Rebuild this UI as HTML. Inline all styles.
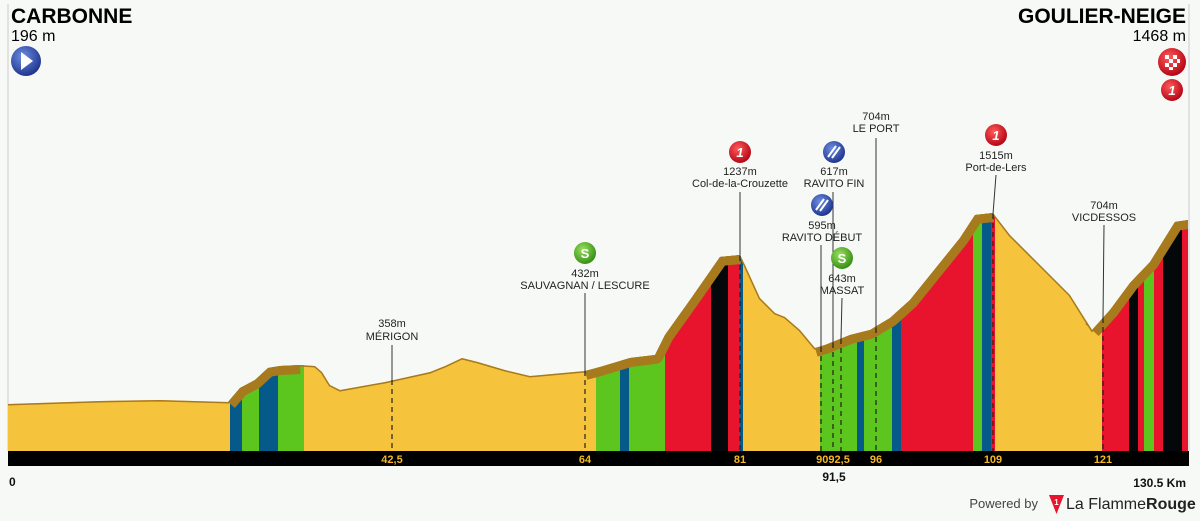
<!DOCTYPE html>
<html><head><meta charset="utf-8"><style>
html,body{margin:0;padding:0;background:#f7f9f7;}
svg{display:block;font-family:"Liberation Sans",Arial,sans-serif;}
</style></head><body>
<svg width="1200" height="521" viewBox="0 0 1200 521" xmlns="http://www.w3.org/2000/svg">
<defs>
<radialGradient id="gb" cx="40%" cy="35%" r="70%"><stop offset="0" stop-color="#6d8fe0"/><stop offset="1" stop-color="#1a2f8a"/></radialGradient>
<radialGradient id="gr" cx="40%" cy="35%" r="70%"><stop offset="0" stop-color="#ff5a5a"/><stop offset="1" stop-color="#b00010"/></radialGradient>
<radialGradient id="gg" cx="40%" cy="35%" r="70%"><stop offset="0" stop-color="#9be060"/><stop offset="1" stop-color="#2f8a10"/></radialGradient>
<clipPath id="prof"><path id="pp" d="M8,404 L100,401 L160,400 L228,402 L240,388 L255,380 L268,368 L280,366 L300,365 L315,366 L322,372 L330,385 L340,390 L385,382 L430,372 L445,366 L462,358 L478,362 L505,370 L530,376 L585,371 L600,367 L630,358 L655,355 L665,335 L690,300 L720,257 L740,255 L745,265 L760,298 L775,313 L785,317 L800,330 L815,348 L825,345 L850,335 L870,330 L890,318 L910,300 L960,238 L975,215 L993,213 L1010,235 L1040,265 L1070,295 L1092,330 L1110,310 L1130,283 L1150,262 L1175,222 L1188,220 L1188,451 L8,451 Z"/></clipPath>
</defs>
<line x1="8" y1="4" x2="8" y2="451" stroke="#ccc" stroke-width="1"/>
<line x1="1189" y1="4" x2="1189" y2="451" stroke="#ccc" stroke-width="1"/>
<g clip-path="url(#prof)">
<rect x="8" y="200" width="1180" height="251" fill="#f5c43c"/>
<g>
<rect x="230" y="200" width="12" height="251" fill="#065a8a"/>
<rect x="242" y="200" width="17" height="251" fill="#5cc51e"/>
<rect x="259" y="200" width="19" height="251" fill="#065a8a"/>
<rect x="278" y="200" width="26" height="251" fill="#5cc51e"/>
<rect x="596" y="200" width="24" height="251" fill="#5cc51e"/>
<rect x="620" y="200" width="9" height="251" fill="#065a8a"/>
<rect x="629" y="200" width="36" height="251" fill="#5cc51e"/>
<rect x="665" y="200" width="46" height="251" fill="#e8142e"/>
<rect x="711" y="200" width="17" height="251" fill="#05080a"/>
<rect x="728" y="200" width="12" height="251" fill="#e8142e"/>
<rect x="740" y="200" width="3" height="251" fill="#065a8a"/>
<rect x="820" y="200" width="37" height="251" fill="#5cc51e"/>
<rect x="857" y="200" width="7" height="251" fill="#065a8a"/>
<rect x="864" y="200" width="28" height="251" fill="#5cc51e"/>
<rect x="892" y="200" width="9" height="251" fill="#065a8a"/>
<rect x="901" y="200" width="72" height="251" fill="#e8142e"/>
<rect x="973" y="200" width="9" height="251" fill="#5cc51e"/>
<rect x="982" y="200" width="9" height="251" fill="#065a8a"/>
<rect x="991" y="200" width="4" height="251" fill="#e8142e"/>
<rect x="1102" y="200" width="27" height="251" fill="#e8142e"/>
<rect x="1129" y="200" width="9" height="251" fill="#05080a"/>
<rect x="1138" y="200" width="6" height="251" fill="#e8142e"/>
<rect x="1144" y="200" width="10" height="251" fill="#5cc51e"/>
<rect x="1154" y="200" width="9" height="251" fill="#e8142e"/>
<rect x="1163" y="200" width="19" height="251" fill="#05080a"/>
<rect x="1182" y="200" width="6" height="251" fill="#e8142e"/>
</g>
<path d="M8,404 L100,401 L160,400 L228,402 L240,388 L255,380 L268,368 L280,366 L300,365 L315,366 L322,372 L330,385 L340,390 L385,382 L430,372 L445,366 L462,358 L478,362 L505,370 L530,376 L585,371 L600,367 L630,358 L655,355 L665,335 L690,300 L720,257 L740,255 L745,265 L760,298 L775,313 L785,317 L800,330 L815,348 L825,345 L850,335 L870,330 L890,318 L910,300 L960,238 L975,215 L993,213 L1010,235 L1040,265 L1070,295 L1092,330 L1110,310 L1130,283 L1150,262 L1175,222 L1188,220" fill="none" stroke="#a87a1e" stroke-width="3"/>
<g fill="none" stroke="#a87a1e" stroke-width="18" stroke-linejoin="round">
<path d="M228,402 L240,388 L255,380 L268,368 L280,366 L300,365"/>
<path d="M585,371 L600,367 L630,358 L655,355 L665,335 L690,300 L720,257 L740,255"/>
<path d="M815,348 L825,345 L850,335 L870,330 L890,318 L910,300 L960,238 L975,215 L993,213"/>
<path d="M1092,330 L1110,310 L1130,283 L1150,262 L1175,222 L1188,220"/>
</g>
</g>
<g stroke="#222" stroke-width="1.2" stroke-dasharray="5,4">
<line x1="392" y1="380" x2="392" y2="451"/><line x1="585" y1="371" x2="585" y2="451"/>
<line x1="740" y1="256" x2="740" y2="451"/><line x1="821" y1="347" x2="821" y2="451"/>
<line x1="833" y1="343" x2="833" y2="451"/><line x1="841" y1="339" x2="841" y2="451"/>
<line x1="876" y1="328" x2="876" y2="451"/><line x1="993" y1="214" x2="993" y2="451"/>
<line x1="1103" y1="318" x2="1103" y2="451"/>
</g>
<g stroke="#333" stroke-width="1">
<line x1="392" y1="345" x2="392" y2="380"/><line x1="585" y1="293" x2="585" y2="371"/>
<line x1="740" y1="192" x2="740" y2="256"/><line x1="821" y1="245" x2="821" y2="347"/>
<line x1="833" y1="192" x2="833" y2="343"/><line x1="842" y1="298" x2="841" y2="339"/>
<line x1="876" y1="138" x2="876" y2="328"/><line x1="996" y1="175" x2="993" y2="214"/>
<line x1="1104" y1="225" x2="1103" y2="318"/>
</g>
<g font-size="11" fill="#222" text-anchor="middle">
<text x="392" y="327">358m</text><text x="392" y="340">MÉRIGON</text>
<text x="585" y="277">432m</text><text x="585" y="289">SAUVAGNAN / LESCURE</text>
<text x="740" y="175">1237m</text><text x="740" y="187">Col-de-la-Crouzette</text>
<text x="834" y="175">617m</text><text x="834" y="187">RAVITO FIN</text>
<text x="822" y="229">595m</text><text x="822" y="241">RAVITO DÉBUT</text>
<text x="842" y="282">643m</text><text x="842" y="294">MASSAT</text>
<text x="876" y="120">704m</text><text x="876" y="132">LE PORT</text>
<text x="996" y="159">1515m</text><text x="996" y="171">Port-de-Lers</text>
<text x="1104" y="209">704m</text><text x="1104" y="221">VICDESSOS</text>
</g>
<g>
<circle cx="740" cy="152" r="11" fill="url(#gr)"/><text x="740" y="157" font-size="13" font-weight="bold" fill="#fff" text-anchor="middle" font-style="italic">1</text>
<circle cx="996" cy="135" r="11" fill="url(#gr)"/><text x="996" y="140" font-size="13" font-weight="bold" fill="#fff" text-anchor="middle" font-style="italic">1</text>
<circle cx="834" cy="152" r="11" fill="url(#gb)"/><path d="M828,157 L836,146 M832,158 L840,147" stroke="#fff" stroke-width="2"/>
<circle cx="822" cy="205" r="11" fill="url(#gb)"/><path d="M816,210 L824,199 M820,211 L828,200" stroke="#fff" stroke-width="2"/>
<circle cx="842" cy="258" r="11" fill="url(#gg)"/><text x="842" y="263" font-size="13" font-weight="bold" fill="#fff" text-anchor="middle">S</text>
<circle cx="585" cy="253" r="11" fill="url(#gg)"/><text x="585" y="258" font-size="13" font-weight="bold" fill="#fff" text-anchor="middle">S</text>
</g>
<rect x="8" y="451" width="1181" height="15" fill="#000"/>
<g font-size="11" font-weight="bold" fill="#f5b820" text-anchor="middle">
<text x="392" y="463">42,5</text><text x="585" y="463">64</text><text x="740" y="463">81</text>
<text x="833" y="463">9092,5</text><text x="876" y="463">96</text><text x="993" y="463">109</text><text x="1103" y="463">121</text>
</g>
<g font-size="12" font-weight="bold" fill="#111">
<text x="9" y="486">0</text>
<text x="834" y="481" text-anchor="middle">91,5</text>
<text x="1186" y="487" text-anchor="end">130.5 Km</text>
</g>
<text x="11" y="23" font-size="21" font-weight="bold" fill="#000">CARBONNE</text>
<text x="11" y="41" font-size="16" fill="#000">196 m</text>
<circle cx="26" cy="61" r="15" fill="url(#gb)"/><path d="M21,52 L33,61 L21,70 Z" fill="#fff"/>
<text x="1186" y="23" font-size="21" font-weight="bold" fill="#000" text-anchor="end">GOULIER-NEIGE</text>
<text x="1186" y="41" font-size="16" fill="#000" text-anchor="end">1468 m</text>
<circle cx="1172" cy="62" r="14" fill="url(#gr)"/>
<g fill="#fff"><rect x="1165" y="55" width="4" height="4"/><rect x="1173" y="55" width="4" height="4"/><rect x="1169" y="59" width="4" height="4"/><rect x="1177" y="59" width="3" height="4"/><rect x="1165" y="63" width="4" height="4"/><rect x="1173" y="63" width="4" height="4"/><rect x="1169" y="67" width="4" height="3"/></g>
<circle cx="1172" cy="90" r="11" fill="url(#gr)"/><text x="1172" y="95" font-size="13" font-weight="bold" fill="#fff" text-anchor="middle" font-style="italic">1</text>
<text x="1038" y="508" font-size="13" fill="#444" text-anchor="end">Powered by</text>
<path d="M1049,495 L1064,495 L1056.5,514 Z" fill="#e8142e"/>
<text x="1056.5" y="505" font-size="8" font-weight="bold" fill="#fff" text-anchor="middle">1</text>
<text x="1066" y="509" font-size="16" fill="#222">La Flamme<tspan font-weight="bold">Rouge</tspan></text>
</svg>
</body></html>
